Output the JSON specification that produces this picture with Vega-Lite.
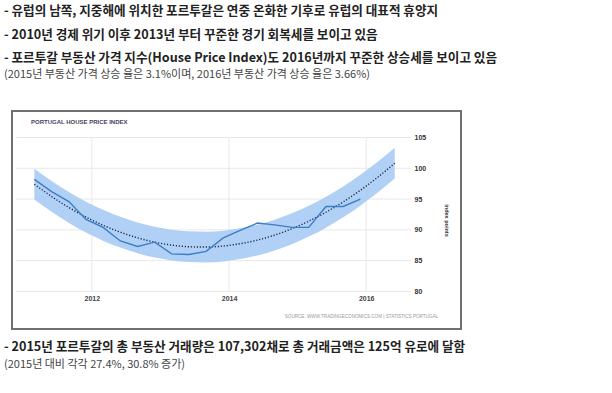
{
  "$schema": "https://vega.github.io/schema/vega-lite/v6.json",
  "background": "white",
  "padding": {"left": 3, "top": 5, "right": 0, "bottom": 0},
  "title": {
    "text": [
      "- 유럽의 남쪽, 지중해에 위치한 포르투갈은 연중 온화한 기후로 유럽의 대표적 휴양지",
      "- 2010년 경제 위기 이후 2013년 부터 꾸준한 경기 회복세를 보이고 있음",
      "- 포르투갈 부동산 가격 지수(House Price Index)도 2016년까지 꾸준한 상승세를 보이고 있음"
    ],
    "subtitle": "\u2002(2015년 부동산 가격 상승 율은 3.1%이며, 2016년 부동산 가격 상승 율은 3.66%)",
    "anchor": "start",
    "frame": "group",
    "dx": -8,
    "offset": 30,
    "font": "Noto Sans CJK KR",
    "fontSize": 12.6,
    "fontWeight": "bold",
    "color": "#222222",
    "lineHeight": 23.5,
    "subtitleFont": "Noto Sans CJK KR",
    "subtitleFontSize": 11,
    "subtitleFontWeight": "normal",
    "subtitleColor": "#444444",
    "subtitlePadding": 4
  },
  "datasets": {
    "hpi": [
      {"date": "2011/03/01", "value": 98.2},
      {"date": "2011/06/01", "value": 96.2},
      {"date": "2011/09/01", "value": 94.6},
      {"date": "2011/12/01", "value": 91.7},
      {"date": "2012/03/01", "value": 90.4},
      {"date": "2012/06/01", "value": 88.2},
      {"date": "2012/09/01", "value": 87.3},
      {"date": "2012/12/01", "value": 88.0},
      {"date": "2013/03/01", "value": 86.1},
      {"date": "2013/06/01", "value": 86.0},
      {"date": "2013/09/01", "value": 86.5},
      {"date": "2013/12/01", "value": 88.7},
      {"date": "2014/03/01", "value": 89.9},
      {"date": "2014/06/01", "value": 91.1},
      {"date": "2014/09/01", "value": 90.8},
      {"date": "2014/12/01", "value": 90.4},
      {"date": "2015/03/01", "value": 90.4},
      {"date": "2015/06/01", "value": 93.8},
      {"date": "2015/09/01", "value": 93.8},
      {"date": "2015/12/01", "value": 95.0}
    ],
    "trend": [
      {"date": "2011/03/01", "trend": 97.41, "lo": 94.91, "hi": 99.91},
      {"date": "2011/06/01", "trend": 95.42, "lo": 92.92, "hi": 97.92},
      {"date": "2011/09/01", "trend": 93.63, "lo": 91.13, "hi": 96.13},
      {"date": "2011/12/01", "trend": 92.08, "lo": 89.58, "hi": 94.58},
      {"date": "2012/03/01", "trend": 90.75, "lo": 88.25, "hi": 93.25},
      {"date": "2012/06/01", "trend": 89.62, "lo": 87.12, "hi": 92.12},
      {"date": "2012/09/01", "trend": 88.70, "lo": 86.20, "hi": 91.20},
      {"date": "2012/12/01", "trend": 88.00, "lo": 85.50, "hi": 90.50},
      {"date": "2013/03/01", "trend": 87.53, "lo": 85.03, "hi": 90.03},
      {"date": "2013/06/01", "trend": 87.26, "lo": 84.76, "hi": 89.76},
      {"date": "2013/09/01", "trend": 87.21, "lo": 84.71, "hi": 89.71},
      {"date": "2013/12/01", "trend": 87.37, "lo": 84.87, "hi": 89.87},
      {"date": "2014/03/01", "trend": 87.75, "lo": 85.25, "hi": 90.25},
      {"date": "2014/06/01", "trend": 88.34, "lo": 85.84, "hi": 90.84},
      {"date": "2014/09/01", "trend": 89.15, "lo": 86.65, "hi": 91.65},
      {"date": "2014/12/01", "trend": 90.18, "lo": 87.68, "hi": 92.68},
      {"date": "2015/03/01", "trend": 91.41, "lo": 88.91, "hi": 93.91},
      {"date": "2015/06/01", "trend": 92.86, "lo": 90.36, "hi": 95.36},
      {"date": "2015/09/01", "trend": 94.54, "lo": 92.04, "hi": 97.04},
      {"date": "2015/12/01", "trend": 96.43, "lo": 93.93, "hi": 98.93},
      {"date": "2016/03/01", "trend": 98.51, "lo": 96.01, "hi": 101.01},
      {"date": "2016/06/01", "trend": 100.82, "lo": 98.32, "hi": 103.32}
    ],
    "gridy": [{"v": 80}, {"v": 85}, {"v": 90}, {"v": 95}, {"v": 100}, {"v": 105}],
    "gridx": [{"d": "2012/01/01"}, {"d": "2014/01/01"}, {"d": "2016/01/01"}]
  },
  "vconcat": [
    {
      "width": 449,
      "height": 218,
      "view": {"stroke": "#707070", "strokeWidth": 2, "fill": "white"},
      "title": {
        "text": "- 2015년 포르투갈의 총 부동산 거래량은 107,302채로 총 거래금액은 125억 유로에 달함",
        "subtitle": "\u2002(2015년 대비 각각 27.4%, 30.8% 증가)",
        "orient": "bottom",
        "anchor": "start",
        "frame": "group",
        "dx": -8,
        "offset": 12,
        "font": "Noto Sans CJK KR",
        "fontSize": 12.6,
        "fontWeight": "bold",
        "color": "#222222",
        "subtitleFont": "Noto Sans CJK KR",
        "subtitleFontSize": 11,
        "subtitleFontWeight": "normal",
        "subtitleColor": "#444444",
        "subtitlePadding": 5
      },
      "layer": [
        {
          "data": {"name": "gridy"},
          "mark": {"type": "rule", "color": "#e8e8e8", "strokeWidth": 1},
          "encoding": {
            "y": {
              "field": "v",
              "type": "quantitative",
              "scale": {"domain": [73.9, 109.3], "nice": false, "zero": false},
              "axis": {
                "orient": "right",
                "offset": -50,
                "values": [80, 85, 90, 95, 100, 105],
                "grid": false,
                "domain": false,
                "ticks": false,
                "labelPadding": 3,
                "labelAlign": "left",
                "labelFlush": false,
                "labelFont": "Liberation Sans",
                "labelFontSize": 7,
                "labelFontWeight": "bold",
                "labelColor": "#333333",
                "title": "index points",
                "titleAngle": 90,
                "titleFont": "Liberation Sans",
                "titleFontSize": 5.5,
                "titleFontWeight": "bold",
                "titleColor": "#333333",
                "titlePadding": 18
              }
            },
            "x": {
              "datum": {"year": 2010, "month": 11, "date": 24},
              "type": "temporal",
              "scale": {"domain": [{"year": 2010, "month": 11, "date": 2}, {"year": 2017, "month": 5, "date": 20}]},
              "axis": {
                "orient": "bottom",
                "offset": -37.5,
                "values": [{"year": 2012}, {"year": 2014}, {"year": 2016}],
                "format": "%Y",
                "grid": false,
                "domain": false,
                "ticks": false,
                "labelPadding": 3,
                "labelFlush": false,
                "labelFont": "Liberation Sans",
                "labelFontSize": 7,
                "labelFontWeight": "bold",
                "labelColor": "#444444",
                "title": null
              }
            },
            "x2": {"datum": {"year": 2016, "month": 8, "date": 27}}
          }
        },
        {
          "data": {"name": "gridx"},
          "mark": {"type": "rule", "color": "#e8e8e8", "strokeWidth": 1},
          "encoding": {
            "x": {"field": "d", "type": "temporal"},
            "y": {"datum": 80},
            "y2": {"datum": 105}
          }
        },
        {
          "data": {"name": "trend"},
          "mark": {"type": "area", "color": "#a9cbf4", "opacity": 0.9, "interpolate": "monotone"},
          "encoding": {
            "x": {"field": "date", "type": "temporal"},
            "y": {"field": "lo", "type": "quantitative"},
            "y2": {"field": "hi"}
          }
        },
        {
          "data": {"name": "trend"},
          "mark": {"type": "line", "color": "#1c2a48", "strokeWidth": 1.4, "strokeDash": [1.2, 1.8], "interpolate": "monotone"},
          "encoding": {
            "x": {"field": "date", "type": "temporal"},
            "y": {"field": "trend", "type": "quantitative"}
          }
        },
        {
          "data": {"name": "hpi"},
          "mark": {"type": "line", "color": "#3c7dc8", "strokeWidth": 1.4},
          "encoding": {
            "x": {"field": "date", "type": "temporal"},
            "y": {"field": "value", "type": "quantitative"}
          }
        },
        {
          "data": {"values": [{"label": "PORTUGAL HOUSE PRICE INDEX"}]},
          "mark": {"type": "text", "align": "left", "baseline": "middle", "font": "Liberation Sans", "fontSize": 6, "fontWeight": "bold", "color": "#4b3d5c"},
          "encoding": {
            "text": {"field": "label"},
            "x": {"datum": {"year": 2011, "month": 2, "date": 11}, "type": "temporal"},
            "y": {"datum": 107.5}
          }
        },
        {
          "data": {"values": [{"label": "SOURCE: WWW.TRADINGECONOMICS.COM | STATISTICS PORTUGAL"}]},
          "mark": {"type": "text", "align": "right", "baseline": "middle", "font": "Liberation Sans", "fontSize": 4.6, "color": "#9a9a9a"},
          "encoding": {
            "text": {"field": "label"},
            "x": {"datum": {"year": 2017, "month": 1, "date": 18}, "type": "temporal"},
            "y": {"datum": 75.86}
          }
        }
      ]
    }
  ]
}
